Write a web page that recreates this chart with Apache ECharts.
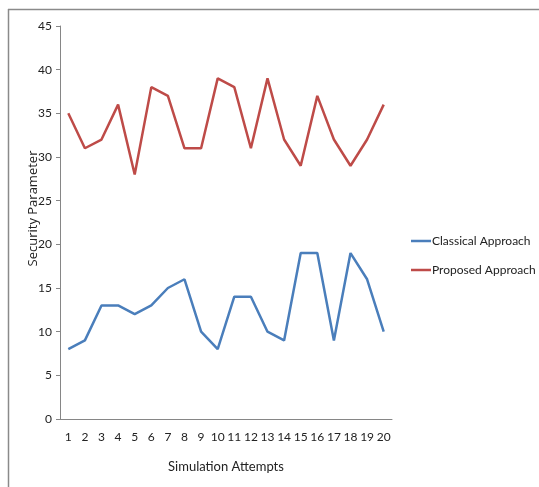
<!DOCTYPE html>
<html><head><meta charset="utf-8">
<script src="https://cdn.jsdelivr.net/npm/echarts@6/dist/echarts.min.js"></script>
<style>html,body{margin:0;padding:0;background:#fff}#c{width:539px;height:487px}</style>
</head><body><div id="c"></div>
<script>
const categories = ['1','2','3','4','5','6','7','8','9','10','11','12','13','14','15','16','17','18','19','20'];
const classical = [8,9,13,13,12,13,15,16,10,8,14,14,10,9,19,19,9,19,16,10];
const proposed = [35,31,32,36,28,38,37,31,31,39,38,31,39,32,29,37,32,29,32,36];
const yTicks = [0,5,10,15,20,25,30,35,40,45];

const narrow = "Lato, 'Liberation Sans', sans-serif";
const chart = echarts.init(document.getElementById('c'), null, {renderer:'canvas'});
chart.setOption({
  animation:false,
  backgroundColor:'#fff',
  grid:{left:60, top:26, width:332, height:393},
  legend:{
    orient:'vertical', left:406, top:230, itemGap:17,
    icon:'rect', itemWidth:20, itemHeight:2.5,
    textStyle:{fontFamily:narrow, fontSize:12, color:'#222', padding:[0,0,0,-4]},
    data:['Classical Approach','Proposed Approach']
  },
  xAxis:{
    type:'category', data:categories, boundaryGap:true,
    name:'Simulation Attempts', nameLocation:'middle', nameGap:41,
    nameTextStyle:{fontFamily:narrow, fontSize:13, color:'#222'},
    axisLine:{lineStyle:{color:'#868686'}},
    axisTick:{show:false},
    axisLabel:{fontFamily:narrow, fontSize:12, color:'#222', margin:12, interval:0}
  },
  yAxis:{
    type:'value', min:0, max:45, interval:5,
    name:'Security Parameter', nameLocation:'middle', nameGap:20, nameMoveOverlap:false,
    nameTextStyle:{fontFamily:"'Open Sans', sans-serif", fontSize:13, color:'#222', padding:[0,0,0,28]},
    axisLine:{show:true, lineStyle:{color:'#868686'}},
    axisTick:{show:true, length:4, lineStyle:{color:'#868686'}},
    splitLine:{show:false},
    axisLabel:{fontFamily:narrow, fontSize:12, color:'#222', margin:8,
      formatter:v=>yTicks.includes(v)?String(v):''}
  },
  series:[
    {name:'Classical Approach', type:'line', data:classical, symbol:'none',
     lineStyle:{color:'#4a7ebb', width:2.5}, itemStyle:{color:'#4a7ebb'}},
    {name:'Proposed Approach', type:'line', data:proposed, symbol:'none',
     lineStyle:{color:'#be4b48', width:2.5}, itemStyle:{color:'#be4b48'}}
  ],
  graphic:[
    {type:'line', shape:{x1:8, y1:9.5, x2:539, y2:9.5}, style:{stroke:'#8a8a8a', lineWidth:1.5}},
    {type:'line', shape:{x1:8.5, y1:9, x2:8.5, y2:487}, style:{stroke:'#8a8a8a', lineWidth:1.5}}
  ]
});
</script></body></html>
